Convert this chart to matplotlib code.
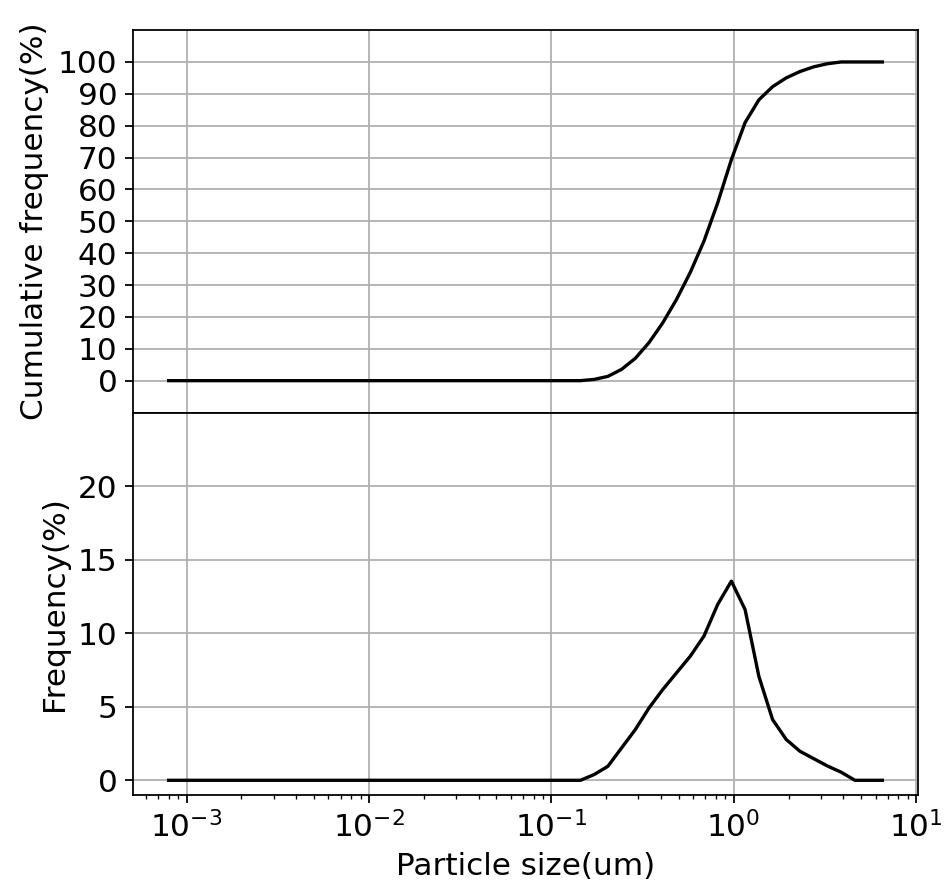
import numpy as np
import matplotlib
matplotlib.use('Agg')
import matplotlib.pyplot as plt

# Tamaños de partícula (um), canales geométricos del analizador
size_um = [0.000798, 0.000949, 0.00113, 0.00134, 0.00160, 0.00190, 0.00226,
           0.00269, 0.00319, 0.00380, 0.00452, 0.00537, 0.00639, 0.00759,
           0.00903, 0.01074, 0.01277, 0.01519, 0.01806, 0.02148, 0.02554,
           0.03038, 0.03613, 0.04296, 0.0511, 0.0608, 0.0723, 0.0859, 0.1022,
           0.1215, 0.1445, 0.1718, 0.2043, 0.243, 0.289, 0.3437, 0.4087,
           0.486, 0.578, 0.6873, 0.8174, 0.972, 1.156, 1.375, 1.635, 1.944,
           2.312, 2.749, 3.27, 3.888, 4.624, 5.499, 6.54]

# Frecuencia por canal (%)
freq_pct = [0.0] * 31 + [0.39, 0.95, 2.2, 3.45, 4.92, 6.17, 7.3, 8.43, 9.8,
                         11.95, 13.54, 11.6, 7.07, 4.13, 2.77, 1.97, 1.47,
                         0.97, 0.55, 0.0, 0.0, 0.0]

x = np.array(size_um)
freq = np.array(freq_pct)
cum = np.clip(np.cumsum(freq) / freq.sum() * 100, 0, 100)

plt.rcParams['font.size'] = 14

dpi = 160
fig, (ax1, ax2) = plt.subplots(2, 1, sharex=True,
                               figsize=(948 / dpi, 885 / dpi), dpi=dpi)
fig.subplots_adjust(left=0.1403, right=0.9684, bottom=0.1017, top=0.966,
                    hspace=0)

# Frecuencia acumulada
ax1.plot(x, cum, color='black')
ax1.set_xscale('log')
ax1.set_ylim(-10, 110)
ax1.set_yticks(np.arange(0, 101, 10))
ax1.set_ylabel('Cumulative frequency(%)')
ax1.grid(True)

# Frecuencia
ax2.plot(x, freq, color='black')
ax2.set_ylim(-1, 25)
ax2.set_yticks([0, 5, 10, 15, 20])
ax2.set_ylabel('Frequency(%)')
ax2.set_xlabel('Particle size(um)')
ax2.grid(True)

fig.savefig('out.png', dpi=dpi)
